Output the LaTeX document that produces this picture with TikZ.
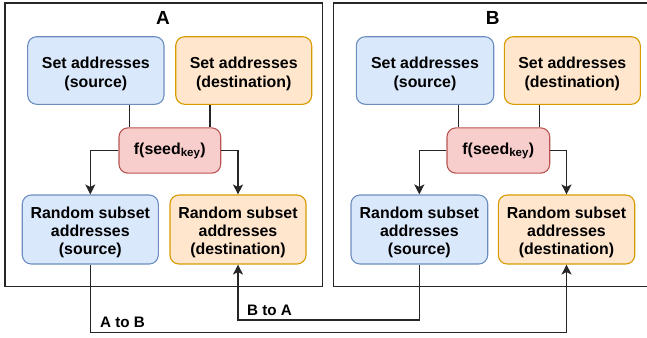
\documentclass[tikz,border=0pt]{standalone}
\usepackage{fontspec}
\setmainfont{Liberation Sans}
\usetikzlibrary{arrows.meta,calc}
\definecolor{bluefill}{HTML}{DAE8FC}
\definecolor{bluedraw}{HTML}{6C8EBF}
\definecolor{orfill}{HTML}{FFE6CC}
\definecolor{ordraw}{HTML}{D79B00}
\definecolor{redfill}{HTML}{F8CECC}
\definecolor{reddraw}{HTML}{B85450}
\tikzset{
  box/.style={rounded corners=9bp, line width=1.1bp, inner sep=0pt},
  bluebox/.style={box, fill=bluefill, draw=bluedraw},
  orbox/.style={box, fill=orfill, draw=ordraw},
  redbox/.style={box, fill=redfill, draw=reddraw},
  txt/.style={align=center, inner sep=0pt,
    font=\fontsize{15.9bp}{18.3bp}\selectfont\bfseries},
  frame/.style={draw=black!85, line width=1.4bp},
  conn/.style={draw=black!85, line width=1.4bp},
  arr/.style={conn, -{Stealth[length=10bp,width=10bp,inset=2.5bp]}},
  title/.style={font=\fontsize{19bp}{21bp}\selectfont\bfseries, inner sep=0pt},
  lbl/.style={font=\fontsize{15.2bp}{17bp}\selectfont\bfseries, inner sep=0pt, anchor=west}
}
\newcommand{\seedkey}{f(seed\textsubscript{\fontsize{11.5bp}{12bp}\selectfont key})}
\begin{document}
\begin{tikzpicture}[x=1bp,y=-1bp]
\useasboundingbox (0,0) rectangle (647,337);
\clip (0,0) rectangle (647,337);
% containers
\draw[frame] (5,3) rectangle (322.5,286.7);
\draw[frame] (333.7,3) rectangle (660,286.7);
\node[title] (tA) at (163,18) {A};
\node[title] (tB) at (492.7,18) {B};
% A
\node[bluebox, minimum width=136.3bp, minimum height=67.6bp] (sA) at (95.85,70.5) {};
\node[orbox, minimum width=136bp, minimum height=67.6bp] (dsA) at (243.7,70.5) {};
\node[redbox, minimum width=101.7bp, minimum height=45.3bp] (fA) at (169.85,150.5) {};
\node[bluebox, minimum width=136bp, minimum height=69bp] (rA) at (90.3,229.5) {};
\node[orbox, minimum width=136bp, minimum height=69bp] (dA) at (238,229.5) {};
% B
\node[bluebox, minimum width=137.4bp, minimum height=67.6bp] (sB) at (425,70.5) {};
\node[orbox, minimum width=136bp, minimum height=67.6bp] (dsB) at (572.3,70.5) {};
\node[redbox, minimum width=102.7bp, minimum height=45.3bp] (fB) at (498.35,150.5) {};
\node[bluebox, minimum width=136.7bp, minimum height=69bp] (rB) at (419.35,229.5) {};
\node[orbox, minimum width=136.4bp, minimum height=69bp] (dB) at (566.5,229.5) {};
% texts
\foreach \n in {sA,sB}
  \node[txt] (\n t) at ([yshift=-3.5bp]\n.center) {Set addresses\\(source)};
\foreach \n in {dsA,dsB}
  \node[txt] (\n t) at ([yshift=-3.5bp]\n.center) {Set addresses\\(destination)};
\foreach \n in {fA,fB}
  \node[txt] (\n t) at ([yshift=-0.5bp]\n.center) {\seedkey};
\foreach \n in {rA,rB}
  \node[txt] (\n t) at ([yshift=-3bp]\n.center) {Random subset\\addresses\\(source)};
\foreach \n in {dA,dB}
  \node[txt] (\n t) at ([yshift=-3bp]\n.center) {Random subset\\addresses\\(destination)};
% connectors A
\draw[conn] ([xshift=11.3bp]fA.north west) -- ([xshift=11.3bp]fA.north west |- sA.south);
\draw[conn] ([xshift=-11.3bp]fA.north east) -- ([xshift=-11.3bp]fA.north east |- dsA.south);
\draw[arr] (fA.west) -| (rA.north);
\draw[arr] (fA.east) -| (dA.north);
% connectors B
\draw[conn] ([xshift=12.3bp]fB.north west) -- ([xshift=12.3bp]fB.north west |- sB.south);
\draw[conn] ([xshift=-11bp]fB.north east) -- ([xshift=-11bp]fB.north east |- dsB.south);
\draw[arr] (fB.west) -| (rB.north);
\draw[arr] (fB.east) -| (dB.north);
% cross connectors
\coordinate (ab) at (90.3,332.3);
\coordinate (ba) at (419.35,320);
\draw[arr] (rA.south) -- (rA.south |- ab) -| (dB.south);
\draw[arr] (rB.south) -- (rB.south |- ba) -| (dA.south);
\node[lbl] (lab) at (100,322.5) {A to B};
\node[lbl] (lba) at (247,310.8) {B to A};
\end{tikzpicture}
\end{document}
